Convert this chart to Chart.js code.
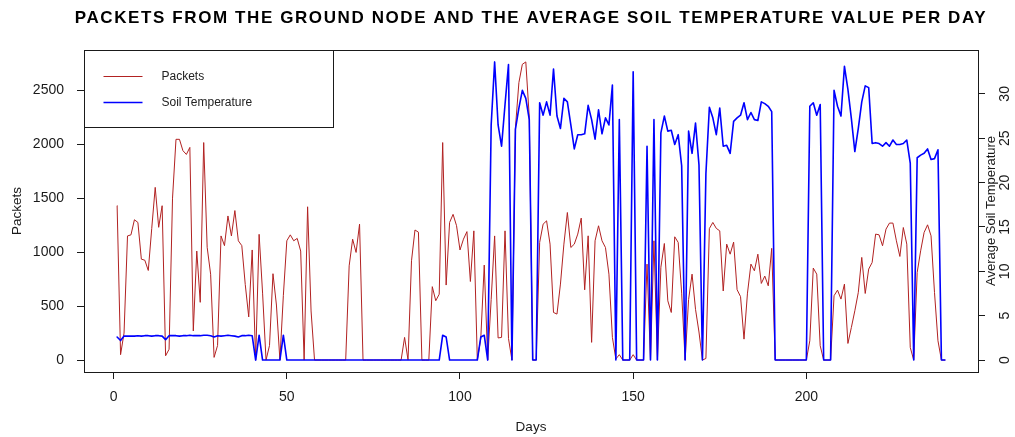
<!DOCTYPE html>
<html>
<head>
<meta charset="utf-8">
<title>Packets and soil temperature per day</title>
<script src="https://cdn.jsdelivr.net/npm/chart.js@4.4.1/dist/chart.umd.min.js"></script>
<style>
  html, body { margin: 0; padding: 0; background: #fff; }
  #wrap { width: 1015px; height: 437px; }
</style>
</head>
<body>
<div id="wrap"><canvas id="chart"></canvas></div>
<script>
// one value per day
var packets = [
    1430, 50, 250, 1150, 1160, 1300, 1275, 935, 925, 830,
    1220, 1600, 1230, 1430, 40, 100, 1500, 2045, 2045, 1940,
    1905, 1970, 270, 1010, 535, 2015, 1045, 795, 25, 135,
    1150, 1060, 1335, 1150, 1385, 1105, 1060, 700, 400, 1020,
    0, 1165, 620, 0, 135, 800, 510, 0, 600, 1105,
    1160, 1105, 1127, 1010, 0, 1420, 455, 0, 0, 0,
    0, 0, 0, 0, 0, 0, 0, 873, 1120, 997,
    1259, 0, 0, 0, 0, 0, 0, 0, 0, 0,
    0, 0, 0, 210, 0, 920, 1205, 1185, 0, 0,
    0, 680, 550, 610, 2015, 695, 1275, 1350, 1245, 1020,
    1120, 1190, 728, 1197, 0, 200, 880, 0, 560, 1150,
    205, 210, 1197, 200, 0, 2150, 2570, 2740, 2762, 2250,
    0, 0, 1090, 1259, 1290, 1074, 441, 426, 704, 1074,
    1367, 1043, 1074, 1167, 1315, 651, 1151, 164, 1105, 1244,
    1105, 1043, 796, 210, 10, 50, 0, 0, 0, 50,
    0, 0, 0, 889, 0, 1105, 0, 860, 1080, 549,
    441, 1142, 1090, 620, 0, 560, 796, 470, 260, 0,
    15, 1218, 1275, 1220, 1197, 640, 1074, 981, 1093, 652,
    588, 194, 620, 889, 827, 981, 710, 778, 688, 1035,
    0, 0, 0, 0, 0, 0, 0, 0, 0, 0,
    179, 852, 796, 133, 0, 0, 0, 596, 648, 565,
    704, 154, 302, 457, 627, 951, 617, 843, 904, 1167,
    1160, 1059, 1213, 1269, 1269, 1105, 960, 1228, 1074, 117,
    0, 812, 1012, 1182, 1253, 1151, 627, 179, 0, 0
];

var soilTemp = [
    2.6, 2.2, 2.7, 2.7, 2.7, 2.7, 2.75, 2.7, 2.75, 2.75,
    2.7, 2.75, 2.75, 2.7, 2.3, 2.75, 2.75, 2.75, 2.7, 2.75,
    2.75, 2.8, 2.75, 2.75, 2.75, 2.8, 2.8, 2.75, 2.6, 2.75,
    2.7, 2.75, 2.8, 2.75, 2.7, 2.6, 2.75, 2.75, 2.8, 2.75,
    0, 2.8, 0, 0, 0, 0, 0, 0, 2.8, 0,
    0, 0, 0, 0, 0, 0, 0, 0, 0, 0,
    0, 0, 0, 0, 0, 0, 0, 0, 0, 0,
    0, 0, 0, 0, 0, 0, 0, 0, 0, 0,
    0, 0, 0, 0, 0, 0, 0, 0, 0, 0,
    0, 0, 0, 0, 2.8, 2.6, 0, 0, 0, 0,
    0, 0, 0, 0, 0, 2.6, 2.8, 0, 26.5, 33.6,
    26.5, 24.1, 28.8, 33.3, 0, 26, 28.4, 30.4, 29.5, 27.1,
    0, 0, 29, 27.6, 29.1, 27.6, 32.8, 27.5, 26.1, 29.5,
    29.1, 26.5, 23.8, 25.4, 25.4, 25.5, 28.7, 27.1, 24.9, 28.2,
    25.5, 27.3, 26.5, 31, 0, 27.1, 0, 0, 0, 32.5,
    0, 0, 0, 24.1, 0, 27.1, 0, 25.6, 27.5, 25.8,
    25.9, 24.3, 25.4, 21.9, 0, 25.8, 23.3, 26.7, 22, 0,
    21, 28.5, 27.3, 25.4, 28.4, 24.1, 24.2, 23.3, 26.9, 27.3,
    27.6, 29, 27.1, 27.9, 27.1, 27, 29.1, 28.9, 28.6, 28,
    0, 0, 0, 0, 0, 0, 0, 0, 0, 0,
    28.6, 29, 27.6, 28.8, 0, 0, 0, 30.4, 28.6, 27.5,
    33.1, 30.5, 27.2, 23.5, 26.1, 29.1, 30.9, 30.7, 24.4, 24.5,
    24.4, 24.1, 24.5, 24.1, 24.8, 24.3, 24.3, 24.4, 24.8, 22.2,
    0, 22.8, 23.1, 23.3, 23.8, 22.6, 22.7, 23.7, 0, 0
];

var dayTicks = [0, 50, 100, 150, 200];
var packetTicks = [0, 500, 1000, 1500, 2000, 2500];
var tempTicks = [0, 5, 10, 15, 20, 25, 30];

var chartTitle = "PACKETS FROM THE GROUND NODE AND THE AVERAGE SOIL TEMPERATURE VALUE PER DAY";
var tempTitle = "Average Soil Temperature";

var days = packets.map(function (v, i) { return i + 1; });

var FONT = "'Liberation Sans', Arial, Helvetica, sans-serif";

// R pads the data range by 4% on both ends
function rRange(values) {
    var lo = Math.min.apply(null, values);
    var hi = Math.max.apply(null, values);
    var pad = (hi - lo) * 0.04;
    return { min: lo - pad, max: hi + pad };
}
var xr = rRange(days), pr = rRange(packets), tr = rRange(soilTemp);

function points(values) {
    return values.map(function (v, i) { return { x: days[i], y: v }; });
}

function fixedTicks(list) {
    return function (scale) {
        scale.ticks = list.map(function (v) { return { value: v }; });
    };
}

function plain(v) { return String(v); }

var rDecor = {
    id: 'rDecor',
    beforeDraw: function (chart) {
        var c = chart.ctx;
        c.save();
        c.fillStyle = '#fff';
        c.fillRect(0, 0, chart.width, chart.height);
        c.restore();
    },
    afterDraw: function (chart) {
        var c = chart.ctx, a = chart.chartArea;
        var l = Math.round(a.left) + 0.5, t = Math.round(a.top) + 0.5;
        c.save();
        c.strokeStyle = '#1a1a1a';
        c.lineWidth = 1;
        c.strokeRect(l, t, Math.round(a.right - a.left), Math.round(a.bottom - a.top));

        // legend, top left corner like legend("topleft", ...)
        c.strokeRect(l, t, 249, 77);
        var ds = chart.data.datasets;
        var rows = [26, 52];
        c.font = '12px ' + FONT;
        c.textBaseline = 'middle';
        c.textAlign = 'left';
        for (var i = 0; i < ds.length; i++) {
            var y = t + rows[i];
            c.strokeStyle = ds[i].borderColor;
            c.lineWidth = ds[i].borderWidth;
            c.beginPath();
            c.moveTo(l + 19, y);
            c.lineTo(l + 58, y);
            c.stroke();
            c.fillStyle = '#222';
            c.fillText(ds[i].label, l + 77, y);
        }

        // main title
        c.fillStyle = '#000';
        c.font = 'bold 17px ' + FONT;
        c.textAlign = 'center';
        c.letterSpacing = '1.6px';
        c.fillText(chartTitle, 531, 18);
        c.letterSpacing = '0px';

        // right axis title, reads bottom to top as in R
        c.font = '13px ' + FONT;
        c.fillStyle = '#1a1a1a';
        c.translate(991, (a.top + a.bottom) / 2);
        c.rotate(-Math.PI / 2);
        c.fillText(tempTitle, 0, 0);
        c.restore();
    }
};

var tickFont = { family: FONT, size: 14 };
var titleFont = { family: FONT, size: 13.5 };

var config = {
    type: 'line',
    data: {
        datasets: [{
            label: 'Packets',
            data: points(packets),
            yAxisID: 'y',
            borderColor: '#B22222',
            borderWidth: 1,
            order: 2
        }, {
            label: 'Soil Temperature',
            data: points(soilTemp),
            yAxisID: 'y1',
            borderColor: '#0000FF',
            borderWidth: 1.6,
            order: 1
        }]
    },
    options: {
        responsive: true,
        maintainAspectRatio: false,
        animation: false,
        layout: { padding: { top: 50, left: 0, right: 0, bottom: 0 } },
        elements: {
            point: { radius: 0 },
            line: { tension: 0, fill: false, borderJoinStyle: 'round', borderCapStyle: 'round' }
        },
        plugins: {
            legend: { display: false },
            title: { display: false },
            tooltip: { enabled: false }
        },
        scales: {
            x: {
                type: 'linear',
                min: xr.min,
                max: xr.max,
                afterBuildTicks: fixedTicks(dayTicks),
                afterFit: function (s) { s.height = 65; },
                grid: { drawOnChartArea: false, drawTicks: true, tickLength: 7, color: '#1a1a1a' },
                border: { display: false },
                ticks: { font: tickFont, color: '#1a1a1a', padding: 10, maxRotation: 0, autoSkip: false, callback: plain },
                title: { display: true, text: 'Days', font: titleFont, color: '#1a1a1a', padding: { top: 0, bottom: 2 } }
            },
            y: {
                type: 'linear',
                position: 'left',
                min: pr.min,
                max: pr.max,
                afterBuildTicks: fixedTicks(packetTicks),
                afterFit: function (s) { s.width = 84; },
                grid: { drawOnChartArea: false, drawTicks: true, tickLength: 7, color: '#1a1a1a' },
                border: { display: false },
                ticks: { font: tickFont, color: '#1a1a1a', padding: 13, autoSkip: false, callback: plain },
                title: { display: true, text: 'Packets', font: titleFont, color: '#1a1a1a', padding: { top: 9, bottom: 0 } }
            },
            y1: {
                type: 'linear',
                position: 'right',
                min: tr.min,
                max: tr.max,
                afterBuildTicks: fixedTicks(tempTicks),
                afterFit: function (s) { s.width = 37; },
                grid: { drawOnChartArea: false, drawTicks: true, tickLength: 7, color: '#1a1a1a' },
                border: { display: false },
                ticks: { font: tickFont, color: '#1a1a1a', padding: 12, autoSkip: false, callback: plain,
                         minRotation: 90, maxRotation: 90, crossAlign: 'center' },
                title: { display: false }
            }
        }
    },
    plugins: [rDecor]
};

var ctx = document.getElementById('chart').getContext('2d');
var chart = new Chart(ctx, config);
</script>
</body>
</html>
